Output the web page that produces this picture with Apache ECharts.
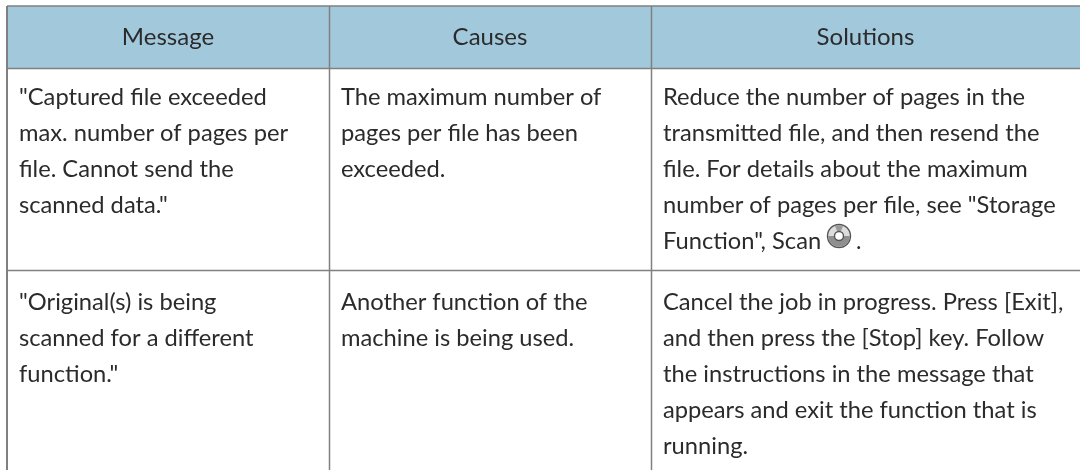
<!DOCTYPE html>
<html><head><meta charset="utf-8">
<style>html,body{margin:0;padding:0;background:#fff}#c{width:1080px;height:470px}</style>
<script src="https://cdn.jsdelivr.net/npm/echarts@6/dist/echarts.min.js"></script></head>
<body><div id="c"></div>
<script>
var headers = ['Message','Causes','Solutions'];
var row1Message = ['"Captured file exceeded','max. number of pages per','file. Cannot send the','scanned data."'];
var row1Causes = ['The maximum number of','pages per file has been','exceeded.'];
var row1Solutions = ['Reduce the number of pages in the','transmitted file, and then resend the','file. For details about the maximum','number of pages per file, see "Storage','Function", Scan'];
var row2Message = ['"Original(s) is being','scanned for a different','function."'];
var row2Causes = ['Another function of the','machine is being used.'];
var row2Solutions = ['Cancel the job in progress. Press [Exit],','and then press the [Stop] key. Follow','the instructions in the message that','appears and exit the function that is','running.'];

var FONT = 'Lato';
var COLX = [7,329,651,1080];
var TOP = 6, HEAD = 68, R1 = 270, BOT = 470;
var TXT = '#2b2b2b', LINE = '#808080';
var g = [];
g.push({type:'rect',shape:{x:COLX[0],y:TOP,width:COLX[3]-COLX[0],height:HEAD-TOP},style:{fill:'#a2c8dc'},silent:true});
function ln(x1,y1,x2,y2,w){g.push({type:'line',shape:{x1:x1,y1:y1,x2:x2,y2:y2},style:{stroke:LINE,lineWidth:w}, z:5});}
ln(COLX[0],TOP,COLX[0],BOT,2);
ln(COLX[1]+.5,TOP,COLX[1]+.5,BOT,1.5);
ln(COLX[2]+.5,TOP,COLX[2]+.5,BOT,1.5);
ln(COLX[0],TOP,COLX[3],TOP,1.5);
ln(COLX[0],HEAD+.5,COLX[3],HEAD+.5,1.5);
ln(COLX[0],R1+.5,COLX[3],R1+.5,1.5);
headers.forEach(function(h,i){g.push({type:'text',style:{text:h,x:(COLX[i]+COLX[i+1])/2,y:37,align:'center',verticalAlign:'middle',font:'24px '+FONT,fill:TXT},z:6});});
function col(lines,x,y0){lines.forEach(function(t,i){g.push({type:'text',x:x,y:y0+i*36,scaleX:1.03,style:{text:t,x:0,y:0,align:'left',verticalAlign:'middle',font:'23px '+FONT,fill:TXT},z:6});});}
var y1=98,y2=303;
col(row1Message,19,y1);col(row1Causes,341,y1);col(row1Solutions,663,y1);
col(row2Message,19,y2);col(row2Causes,341,y2);col(row2Solutions,663,y2);
// disc icon and trailing full stop
var IX=839,IY=236,IR=11.5;
g.push({type:'circle',shape:{cx:IX,cy:IY,r:IR},style:{fill:'#dcdcdc',stroke:'#555',lineWidth:1.4},z:6});
g.push({type:'sector',shape:{cx:IX,cy:IY,r:IR-.7,r0:0,startAngle:0,endAngle:Math.PI},style:{fill:'#8f8f8f'},z:7});
g.push({type:'sector',shape:{cx:IX,cy:IY,r:IR-.7,r0:0,startAngle:-Math.PI*0.62,endAngle:-Math.PI*0.38},style:{fill:'#9a9a9a'},z:7});
g.push({type:'circle',shape:{cx:IX,cy:IY,r:4.5},style:{fill:'#fff',stroke:'#555',lineWidth:1.4},z:8});
g.push({type:'text',style:{text:'.',x:856,y:y1+4*36,align:'left',verticalAlign:'middle',font:'23px '+FONT,fill:TXT},z:6});
echarts.init(document.getElementById('c'),null,{renderer:'canvas'}).setOption({animation:false,backgroundColor:'#fff',graphic:{elements:g}});
</script></body></html>
